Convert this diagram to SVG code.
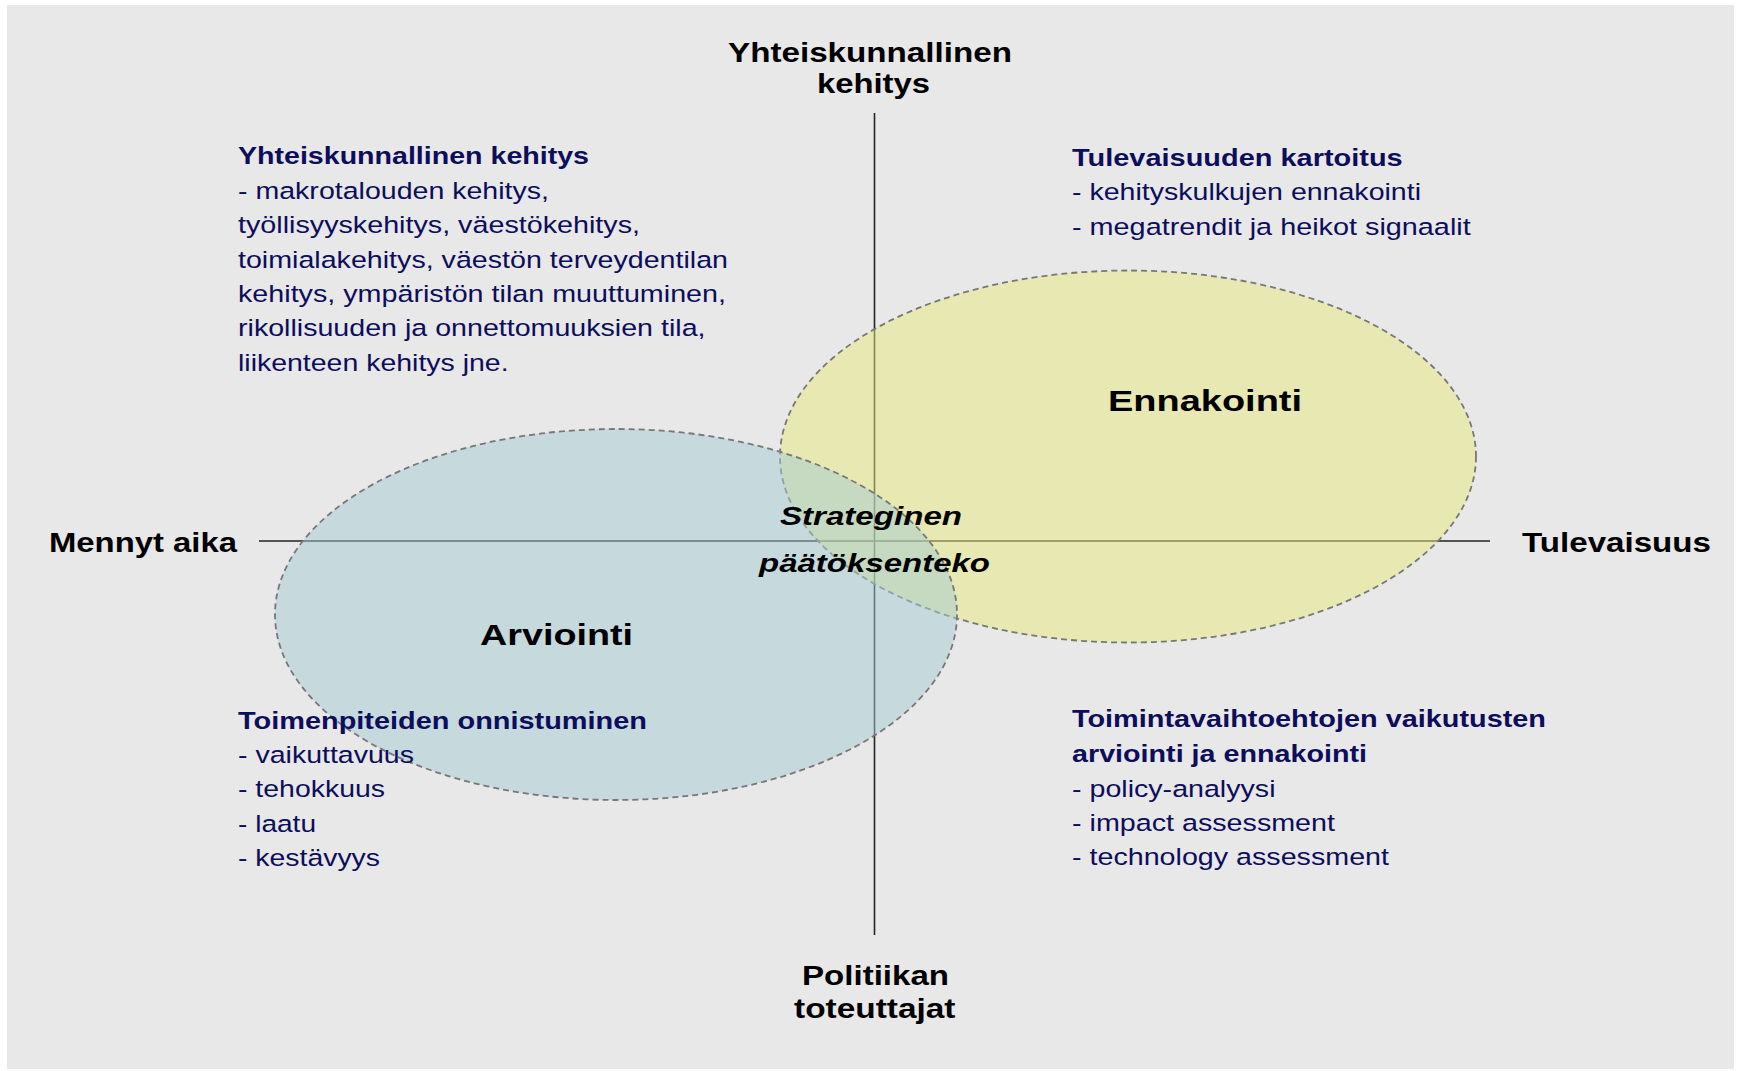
<svg xmlns="http://www.w3.org/2000/svg" width="1742" height="1071" viewBox="0 0 1742 1071">
<style>
.t{font-family:"Liberation Sans",Arial,sans-serif;fill:#0d0d5c;font-size:24.5px}
.h{font-weight:bold}
.ax{font-family:"Liberation Sans",Arial,sans-serif;fill:#000;font-size:27.5px;font-weight:bold}
.big{font-family:"Liberation Sans",Arial,sans-serif;fill:#000;font-size:30px;font-weight:bold}
.ctr{font-family:"Liberation Sans",Arial,sans-serif;fill:#000;font-size:25.5px;font-weight:bold;font-style:italic}
.axis{stroke:#222;stroke-width:1.6;fill:none}
.ell{stroke:#777;stroke-width:1.8;stroke-dasharray:6 4}
</style>
<rect x="0" y="0" width="1742" height="1071" fill="#ffffff"/>
<rect x="7" y="5" width="1727" height="1064" fill="#e8e8e8"/>
<g id="connectors">
<line class="axis" x1="874.5" y1="113" x2="874.5" y2="935"/>
<line class="axis" x1="259" y1="541" x2="1490" y2="541"/>
</g>
<g id="node-ennakointi">
<ellipse cx="1128" cy="456.5" rx="348" ry="186" fill="#e8e87e" fill-opacity="0.5" class="ell"/>
<text class="big" x="1108" y="411" textLength="194" lengthAdjust="spacingAndGlyphs">Ennakointi</text>
</g>
<g id="node-arviointi">
<ellipse cx="616" cy="614.5" rx="341" ry="185.5" fill="#a4cad0" fill-opacity="0.5" class="ell"/>
<text class="big" x="480" y="645" textLength="153" lengthAdjust="spacingAndGlyphs">Arviointi</text>
</g>
<g id="node-strateginen">
<text class="ctr" x="780" y="525" textLength="182" lengthAdjust="spacingAndGlyphs">Strateginen</text>
<text class="ctr" x="759" y="572" textLength="231" lengthAdjust="spacingAndGlyphs">päätöksenteko</text>
</g>
<g id="axis-top">
<text class="ax" x="728" y="62" textLength="284" lengthAdjust="spacingAndGlyphs">Yhteiskunnallinen</text>
<text class="ax" x="817" y="93" textLength="113" lengthAdjust="spacingAndGlyphs">kehitys</text>
</g>
<g id="axis-bottom">
<text class="ax" x="802" y="985" textLength="147" lengthAdjust="spacingAndGlyphs">Politiikan</text>
<text class="ax" x="794" y="1018" textLength="161.5" lengthAdjust="spacingAndGlyphs">toteuttajat</text>
</g>
<g id="axis-left">
<text class="ax" x="49" y="551.5" textLength="188" lengthAdjust="spacingAndGlyphs">Mennyt aika</text>
</g>
<g id="axis-right">
<text class="ax" x="1522" y="551.5" textLength="189" lengthAdjust="spacingAndGlyphs">Tulevaisuus</text>
</g>
<g id="quadrant-top-left" class="t">
<text class="h" x="238" y="164" textLength="351" lengthAdjust="spacingAndGlyphs">Yhteiskunnallinen kehitys</text>
<text x="238" y="198.5" textLength="311" lengthAdjust="spacingAndGlyphs">- makrotalouden kehitys,</text>
<text x="238" y="233" textLength="402" lengthAdjust="spacingAndGlyphs">työllisyyskehitys, väestökehitys,</text>
<text x="238" y="267.5" textLength="490" lengthAdjust="spacingAndGlyphs">toimialakehitys, väestön terveydentilan</text>
<text x="238" y="302" textLength="488" lengthAdjust="spacingAndGlyphs">kehitys, ympäristön tilan muuttuminen,</text>
<text x="238" y="336" textLength="467.5" lengthAdjust="spacingAndGlyphs">rikollisuuden ja onnettomuuksien tila,</text>
<text x="238" y="370.5" textLength="270.6" lengthAdjust="spacingAndGlyphs">liikenteen kehitys jne.</text>
</g>
<g id="quadrant-top-right" class="t">
<text class="h" x="1072" y="166" textLength="330.7" lengthAdjust="spacingAndGlyphs">Tulevaisuuden kartoitus</text>
<text x="1072" y="200" textLength="349" lengthAdjust="spacingAndGlyphs">- kehityskulkujen ennakointi</text>
<text x="1072" y="234.5" textLength="398.7" lengthAdjust="spacingAndGlyphs">- megatrendit ja heikot signaalit</text>
</g>
<g id="quadrant-bottom-left" class="t">
<text class="h" x="238" y="728.5" textLength="409" lengthAdjust="spacingAndGlyphs">Toimenpiteiden onnistuminen</text>
<text x="238" y="763" textLength="176" lengthAdjust="spacingAndGlyphs">- vaikuttavuus</text>
<text x="238" y="797" textLength="147" lengthAdjust="spacingAndGlyphs">- tehokkuus</text>
<text x="238" y="831.5" textLength="78" lengthAdjust="spacingAndGlyphs">- laatu</text>
<text x="238" y="866" textLength="142" lengthAdjust="spacingAndGlyphs">- kestävyys</text>
</g>
<g id="quadrant-bottom-right" class="t">
<text class="h" x="1072" y="727" textLength="474" lengthAdjust="spacingAndGlyphs">Toimintavaihtoehtojen vaikutusten</text>
<text class="h" x="1072" y="762" textLength="295" lengthAdjust="spacingAndGlyphs">arviointi ja ennakointi</text>
<text x="1072" y="797" textLength="203.5" lengthAdjust="spacingAndGlyphs">- policy-analyysi</text>
<text x="1072" y="831" textLength="263" lengthAdjust="spacingAndGlyphs">- impact assessment</text>
<text x="1072" y="865" textLength="317" lengthAdjust="spacingAndGlyphs">- technology assessment</text>
</g>
</svg>
